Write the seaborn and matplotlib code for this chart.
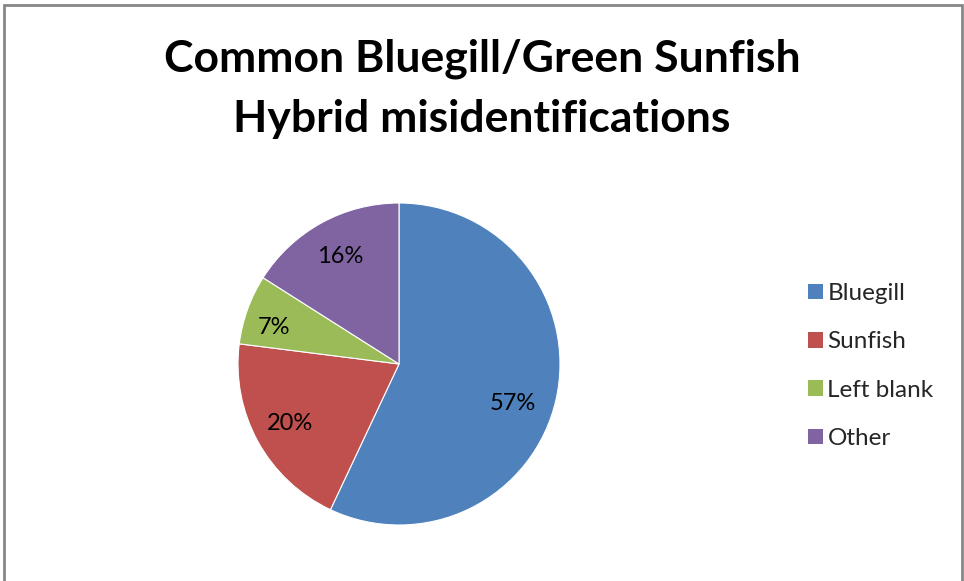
import matplotlib
matplotlib.use("Agg")
import numpy as np
import matplotlib.pyplot as plt
from matplotlib.patches import Rectangle
import seaborn as sns

# Chart data
categories = ["Bluegill", "Sunfish", "Left blank", "Other"]
shares = [57, 20, 7, 16]
title_lines = ["Common Bluegill/Green Sunfish", "Hybrid misidentifications"]
colors = ["#4F81BD", "#C0504D", "#9BBB59", "#8064A2"]

# Best-fit placement of the percentage labels inside each slice
label_angle_nudge = [-6.3, 0.0, 3.5, 0.0]   # degrees from the slice mid-angle
label_radius = [0.75, 0.77, 0.81, 0.76]     # fraction of the pie radius

sns.set_theme(style="white")
plt.rcParams["font.family"] = ["Lato", "DejaVu Sans"]

W, H = 964, 581
fig = plt.figure(figsize=(W / 100, H / 100), dpi=100)
fig.patch.set_facecolor("white")

# Chart frame (open at the bottom edge)
frame = Rectangle((3.5 / W, -0.05), (962 - 3.5) / W, 1.05 - 5 / H,
                  transform=fig.transFigure, fill=False,
                  edgecolor="#878787", linewidth=2.0)
fig.patches.append(frame)

# Pie axes: centre (399, 364) px, radius 161 px
cx, cy, r = 399, 364, 161
ax = fig.add_axes([(cx - r) / W, (H - cy - r) / H, 2 * r / W, 2 * r / H])
wedges, texts, autotexts = ax.pie(
    shares, colors=sns.color_palette(colors), startangle=90, counterclock=False,
    autopct=lambda p: f"{p:.0f}%", pctdistance=0.76, radius=1,
    wedgeprops=dict(linewidth=0.8, edgecolor="white"),
    textprops=dict(fontsize=17, color="black"),
)
for w, t, nudge, rad in zip(wedges, autotexts, label_angle_nudge, label_radius):
    theta = np.deg2rad((w.theta1 + w.theta2) / 2 + nudge)
    t.set_position((rad * np.cos(theta), rad * np.sin(theta)))
ax.set_xlim(-1, 1)
ax.set_ylim(-1, 1)
ax.set_aspect("equal")
ax.axis("off")

# Title
for i, line in enumerate(title_lines):
    fig.text(482 / W, 1 - (59 + 60 * i) / H, line, ha="center", va="center",
             fontsize=32, fontweight="bold", color="black")

# Legend
handles = [Rectangle((0, 0), 1, 1, facecolor=c, edgecolor="none") for c in colors]
leg = fig.legend(handles, categories, loc="center left",
                 bbox_to_anchor=(808 / W, 1 - 366 / H), frameon=False,
                 fontsize=17.5, handlelength=0.6, handleheight=0.6,
                 handletextpad=0.2, labelspacing=1.12, borderpad=0,
                 borderaxespad=0)

fig.savefig("out.png", dpi=100, facecolor="white")
